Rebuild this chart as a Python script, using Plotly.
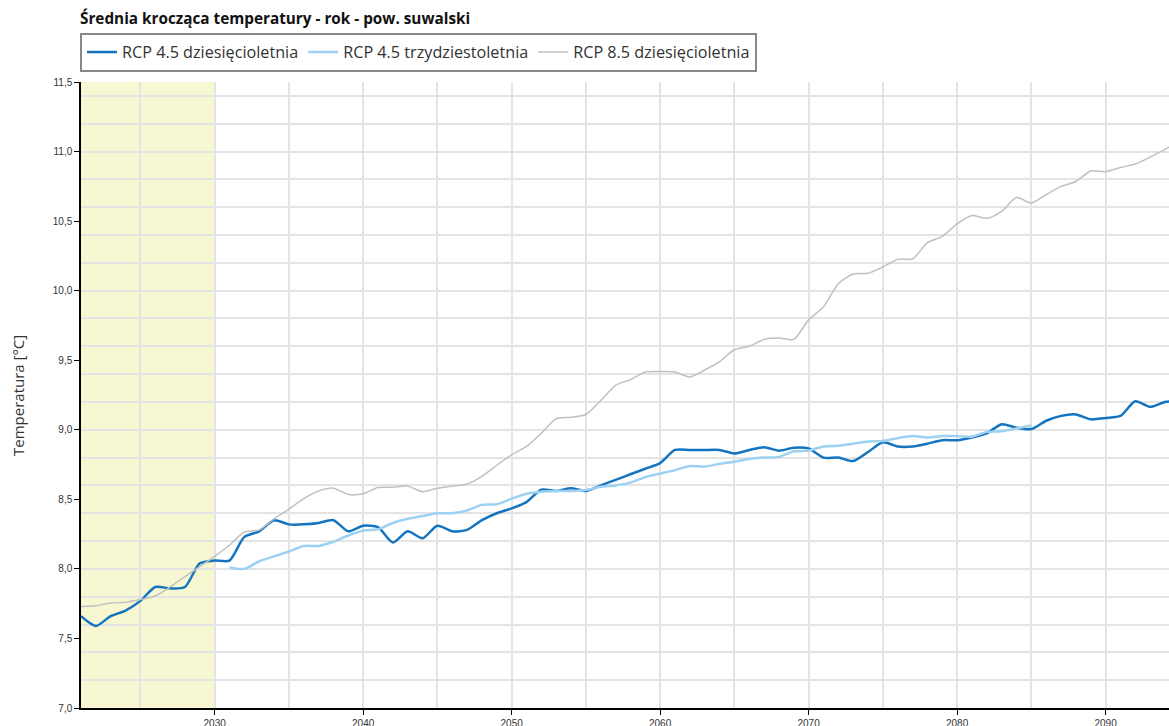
import plotly.graph_objects as go

# ---- data ----
years = list(range(2021, 2096))
rcp45_10 = [7.66, 7.59, 7.66, 7.70, 7.77, 7.87, 7.86, 7.87, 8.04, 8.06,
            8.06, 8.23, 8.27, 8.35, 8.32, 8.32, 8.33, 8.35, 8.27, 8.31,
            8.30, 8.19, 8.27, 8.22, 8.31, 8.27, 8.28, 8.35, 8.40, 8.435,
            8.48, 8.57, 8.56, 8.58, 8.56, 8.60, 8.64, 8.68, 8.72, 8.76,
            8.855, 8.855, 8.855, 8.855, 8.83, 8.855, 8.875, 8.85, 8.87, 8.865,
            8.80, 8.80, 8.775, 8.84, 8.91, 8.88, 8.88, 8.90, 8.925, 8.925,
            8.945, 8.975, 9.04, 9.015, 9.005, 9.065, 9.10, 9.11, 9.075, 9.085,
            9.10, 9.205, 9.165, 9.20, 9.21]
rcp85_10 = [7.73, 7.735, 7.755, 7.76, 7.78, 7.805, 7.87, 7.944, 8.016, 8.09,
            8.17, 8.265, 8.28, 8.36, 8.43, 8.505, 8.56, 8.58, 8.535, 8.54,
            8.585, 8.587, 8.595, 8.555, 8.58, 8.595, 8.61, 8.665, 8.745, 8.82,
            8.88, 8.975, 9.08, 9.09, 9.11, 9.21, 9.32, 9.36, 9.415, 9.418,
            9.415, 9.38, 9.43, 9.49, 9.575, 9.60, 9.65, 9.66, 9.65, 9.79,
            9.885, 10.05, 10.12, 10.125, 10.17, 10.225, 10.228, 10.345, 10.39, 10.48,
            10.54, 10.52, 10.57, 10.67, 10.63, 10.69, 10.75, 10.785, 10.86, 10.855,
            10.885, 10.91, 10.96, 11.015, 11.08]
years_30 = list(range(2031, 2086))
rcp45_30 = [8.01, 8.00, 8.055, 8.09, 8.125, 8.165, 8.165, 8.195, 8.24, 8.275,
            8.285, 8.33, 8.36, 8.38, 8.40, 8.40, 8.42, 8.46, 8.465, 8.505,
            8.54, 8.555, 8.56, 8.56, 8.567, 8.59, 8.60, 8.62, 8.66, 8.685,
            8.71, 8.74, 8.735, 8.755, 8.77, 8.79, 8.80, 8.805, 8.845, 8.85,
            8.88, 8.885, 8.90, 8.915, 8.92, 8.94, 8.955, 8.945, 8.955, 8.955,
            8.95, 8.985, 8.99, 9.01, 9.03]

series_names = ["RCP 4.5 dziesięcioletnia", "RCP 4.5 trzydziestoletnia", "RCP 8.5 dziesięcioletnia"]
x_tick_vals = [2030, 2040, 2050, 2060, 2070, 2080, 2090]
x_tick_labels = ["2030", "2040", "2050", "2060", "2070", "2080", "2090"]
y_tick_vals = [7.0, 7.5, 8.0, 8.5, 9.0, 9.5, 10.0, 10.5, 11.0, 11.5]
y_tick_labels = ["7,0", "7,5", "8,0", "8,5", "9,0", "9,5", "10,0", "10,5", "11,0", "11,5"]
highlight_period = [2021, 2030]
title_text = "Średnia krocząca temperatury - rok - pow. suwalski"
y_title = "Temperatura [°C]"

W, H = 1169, 726
ML, MT, MB, MR = 81, 82, 18, 0
PH = H - MT - MB
PW = W - ML - MR
GRID = "#e4e4e4"

fig = go.Figure()
fig.add_trace(go.Scatter(x=years, y=rcp45_10, name=series_names[0], mode="lines",
                         line=dict(color="#1574bf", width=2.5, shape="spline", smoothing=0.7),
                         hoverinfo="skip"))
fig.add_trace(go.Scatter(x=years_30, y=rcp45_30, name=series_names[1], mode="lines",
                         line=dict(color="#9dd1f3", width=2.5, shape="spline", smoothing=0.7),
                         hoverinfo="skip"))
fig.add_trace(go.Scatter(x=years, y=rcp85_10, name=series_names[2], mode="lines",
                         line=dict(color="#c0c0c0", width=1.5, shape="spline", smoothing=0.7),
                         hoverinfo="skip"))
# invisible helper trace so the grid overlay axis is created
fig.add_trace(go.Scatter(x=[], y=[], yaxis="y2", showlegend=False, hoverinfo="skip"))

fig.add_vrect(x0=highlight_period[0], x1=highlight_period[1], fillcolor="#f7f7d2",
              line_width=0, layer="below")

fig.update_layout(
    width=W, height=H,
    margin=dict(l=ML, r=MR, t=MT, b=MB, pad=0),
    paper_bgcolor="white", plot_bgcolor="white",
    title=dict(text="<b>" + title_text + "</b>", x=80 / W, xanchor="left",
               y=1 - 19 / H, yanchor="middle", xref="container", yref="container",
               font=dict(family="Open Sans", size=15.3, color="#111")),
    legend=dict(orientation="h", x=-1 / PW, xanchor="left", y=1 + (MT - 33) / PH,
                yanchor="top", bordercolor="#888", borderwidth=2, bgcolor="white",
                font=dict(family="Open Sans", size=16.2, color="#333"),
                itemwidth=30, tracegroupgap=0),
    xaxis=dict(range=[2021, 2094.27], tickvals=x_tick_vals, ticktext=x_tick_labels,
               ticks="outside", ticklen=5, tickwidth=1, tickcolor="#000",
               showline=True, linecolor="#000", linewidth=1.5,
               showgrid=True, gridcolor=GRID, gridwidth=1.5,
               minor=dict(tick0=2020, dtick=5, showgrid=True, gridcolor=GRID, gridwidth=1.5),
               zeroline=False, automargin=False,
               tickfont=dict(family="Liberation Sans", size=10, color="#333")),
    yaxis=dict(range=[7.0, 11.5], tickvals=y_tick_vals, ticktext=y_tick_labels,
               ticks="outside", ticklen=5, tickwidth=1, tickcolor="#000",
               showline=True, linecolor="#000", linewidth=1.5,
               showgrid=False, zeroline=False, automargin=False,
               tickfont=dict(family="Liberation Sans", size=10, color="#333")),
    yaxis2=dict(range=[7.0, 11.5], overlaying="y", side="left", tick0=7.0, dtick=0.2,
                showticklabels=False, ticks="", showline=False,
                showgrid=True, gridcolor=GRID, gridwidth=1.5, zeroline=False,
                automargin=False),
    annotations=[dict(text=y_title, textangle=-90, xref="paper", yref="paper",
                      x=(18 - ML) / PW, y=(708 - 396) / PH, xanchor="center", yanchor="middle",
                      showarrow=False, font=dict(family="Open Sans", size=15, color="#333"))],
)

fig.write_html("out.html", config={"displayModeBar": False},
               post_script="document.body.style.margin='0';document.body.style.overflow='hidden';")
